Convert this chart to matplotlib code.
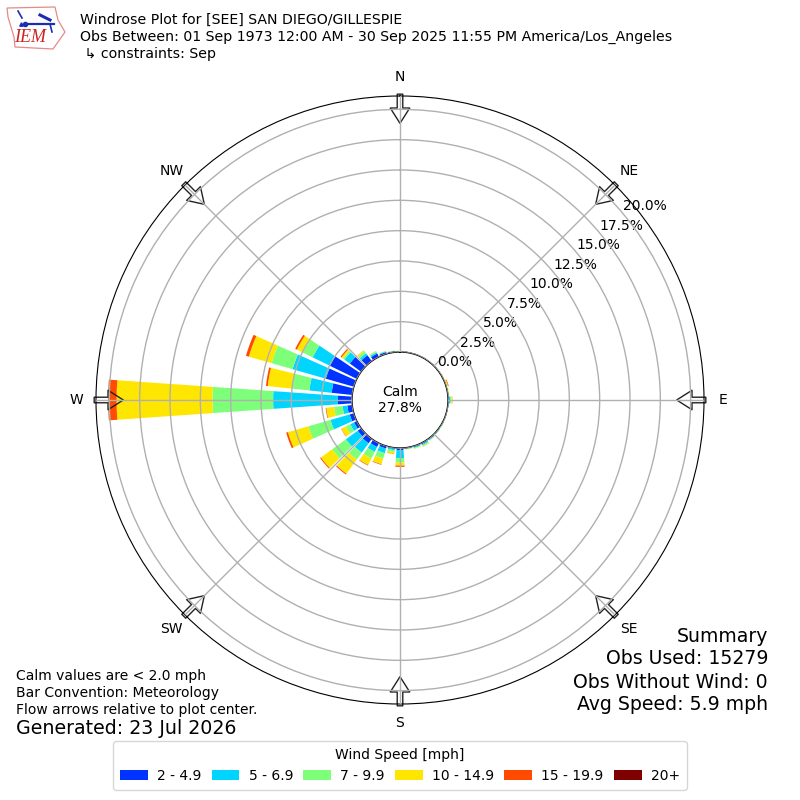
import matplotlib
matplotlib.use("Agg")
import matplotlib.pyplot as plt
import numpy as np
from matplotlib.patches import Polygon

# direction of each bar, degrees
directions = [10, 20, 30, 40, 50, 60, 70, 80, 90, 100, 110, 120,
              130, 140, 150, 160, 170, 180, 190, 200, 210, 220, 230, 240,
              250, 260, 270, 280, 290, 300, 310, 320, 330, 340, 350, 360]

# percent of observations in each speed bin
speed_2_5 = [0.04, 0.04, 0.04, 0.03, 0.03, 0.03, 0.03, 0.03, 0.08, 0.03, 0.04, 0.05,
             0.06, 0.08, 0.10, 0.08, 0.06, 0.17, 0.05, 0.20, 0.35, 0.45, 0.35, 0.25,
             0.35, 0.40, 1.16, 1.70, 2.40, 2.50, 1.15, 0.60, 0.30, 0.15, 0.08, 0.06]
speed_5_7 = [0.02, 0.02, 0.02, 0.01, 0.01, 0.02, 0.02, 0.03, 0.10, 0.02, 0.02, 0.03,
             0.04, 0.06, 0.10, 0.08, 0.05, 0.66, 0.15, 0.40, 0.45, 0.95, 1.20, 0.35,
             1.65, 0.40, 5.34, 1.85, 2.85, 1.55, 0.55, 0.20, 0.12, 0.06, 0.03, 0.02]
speed_7_10 = [0.01, 0.01, 0.01, 0.01, 0.01, 0.02, 0.04, 0.03, 0.10, 0.01, 0.01, 0.02,
              0.02, 0.03, 0.08, 0.05, 0.03, 0.37, 0.15, 0.47, 0.60, 0.70, 1.40, 0.40,
              1.90, 0.70, 5.00, 1.45, 1.80, 0.90, 0.15, 0.20, 0.06, 0.03, 0.02, 0.01]
speed_10_15 = [0.01, 0.01, 0.01, 0.01, 0.01, 0.02, 0.08, 0.03, 0.08, 0.01, 0.01, 0.01,
               0.01, 0.02, 0.04, 0.03, 0.02, 0.25, 0.15, 0.48, 0.60, 1.45, 1.15, 0.40,
               1.75, 0.65, 7.90, 2.00, 1.95, 0.55, 0.15, 0.10, 0.04, 0.02, 0.01, 0.01]
speed_15_20 = [0.0, 0.0, 0.0, 0.0, 0.0, 0.0, 0.05, 0.0, 0.01, 0.0, 0.0, 0.0,
               0.0, 0.0, 0.01, 0.0, 0.0, 0.10, 0.02, 0.05, 0.05, 0.08, 0.08, 0.03,
               0.15, 0.05, 0.70, 0.15, 0.25, 0.15, 0.10, 0.01, 0.01, 0.0, 0.0, 0.0]
speed_20 = [0.0] * 36

bin_labels = ["2 - 4.9", "5 - 6.9", "7 - 9.9", "10 - 14.9", "15 - 19.9", "20+"]
bin_colors = ["#0033ff", "#00d5ff", "#7dff7a", "#ffe600", "#ff4a00", "#800000"]
compass = ["N", "NE", "E", "SE", "S", "SW", "W", "NW"]
rings = [0, 2.5, 5, 7.5, 10, 12.5, 15, 17.5, 20]

fig = plt.figure(figsize=(8, 8), dpi=100)
ax = fig.add_axes([0.12, 0.12, 0.76, 0.76], projection="polar")
ax.set_theta_zero_location("N")
ax.set_theta_direction(-1)

# stack the bins
base = np.zeros(36)
theta = np.radians(directions)
series = [speed_2_5, speed_5_7, speed_7_10, speed_10_15, speed_15_20, speed_20]
for values, label, color in zip(series, bin_labels, bin_colors):
    ax.bar(theta, values, width=np.radians(8), bottom=base, color=color,
           label=label, linewidth=0, zorder=1)
    base = base + np.array(values)

ax.set_ylim(0, 21.1)
ax.set_rorigin(-3.96)
ax.set_axisbelow(False)
ax.grid(True, color="#b0b0b0", linewidth=1.0)
ax.set_rgrids(rings, [f"{r:.1f}%" for r in rings], angle=50)
ax.set_thetagrids(np.arange(0, 360, 45), compass)
ax.tick_params(axis="x", pad=3.5)
ax.spines["inner"].set_visible(True)
ax.spines["inner"].set_color("black")
ax.spines["inner"].set_linewidth(1.0)

# flow arrows
for angle in np.arange(0, 360, 45):
    ax.annotate("", xy=(np.radians(angle), 18.85), xytext=(np.radians(angle), 21.25),
                annotation_clip=False, zorder=2,
                arrowprops=dict(facecolor="none", edgecolor="#222222", linewidth=1.0,
                                width=4, headwidth=14, headlength=11, shrink=0))

ax.text(0.5, 0.5, "Calm\n27.8%", transform=ax.transAxes, ha="center", va="center",
        fontsize=10, zorder=5)

# header
fig.text(80 / 800, 1 - 20 / 800, "Windrose Plot for [SEE] SAN DIEGO/GILLESPIE",
         fontsize=10.13, va="center")
fig.text(80 / 800, 1 - 37 / 800,
         "Obs Between: 01 Sep 1973 12:00 AM - 30 Sep 2025 11:55 PM America/Los_Angeles",
         fontsize=10.13, va="center")
fig.text(80 / 800, 1 - 54 / 800, " \u21b3 constraints: Sep", fontsize=10.13, va="center")

# footer notes
fig.text(16 / 800, 1 - 676 / 800, "Calm values are < 2.0 mph", fontsize=10, va="center")
fig.text(16 / 800, 1 - 693 / 800, "Bar Convention: Meteorology", fontsize=10, va="center")
fig.text(16 / 800, 1 - 710 / 800, "Flow arrows relative to plot center.", fontsize=10, va="center")
fig.text(16 / 800, 1 - 729 / 800, "Generated: 23 Jul 2026", fontsize=13.7, va="center")

summary = ["Summary", "Obs Used: 15279", "Obs Without Wind: 0", "Avg Speed: 5.9 mph"]
for i, line in enumerate(summary):
    fig.text(768 / 800, 1 - (636 + 23 * i) / 800, line, fontsize=13.6, ha="right", va="center")

fig.legend(*ax.get_legend_handles_labels(), title="Wind Speed [mph]", ncol=6,
           loc="lower center", bbox_to_anchor=(0.5, 0.0125), fontsize=10,
           title_fontsize=10, columnspacing=0.75, handletextpad=0.65,
           borderaxespad=0, borderpad=0.5)

# little IEM logo
logo = fig.add_axes([0, 1 - 60 / 800, 70 / 800, 60 / 800])
logo.set_xlim(0, 70)
logo.set_ylim(60, 0)
logo.axis("off")
logo.add_patch(Polygon([(7, 8), (55, 7), (58, 20), (65, 32), (58, 42), (53, 49),
                        (15, 47), (14, 37), (8, 17)], closed=True, fill=False,
                       edgecolor="#e58a8a", linewidth=0.9))
logo.plot([25, 54], [24, 24], color="#1a2fb0", linewidth=1.6)
logo.plot([18, 22], [11, 18], color="#1a2fb0", linewidth=1.2)
logo.plot([40, 50], [15, 20], color="#1a2fb0", linewidth=2.2)
logo.plot([50, 52], [24, 32], color="#1a2fb0", linewidth=1.2)
logo.plot([25], [24], "o", color="#1a2fb0", markersize=3)
logo.plot([21], [24], "^", color="#1a2fb0", markersize=2.5)
logo.text(30, 38, "IEM", family="Liberation Serif", style="italic", color="#cc2222",
          fontsize=13, ha="center", va="center")

fig.savefig("out.png", dpi=100)
